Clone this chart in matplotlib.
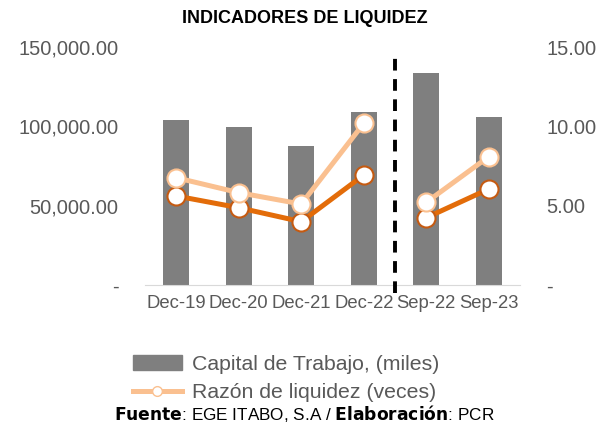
import matplotlib.pyplot as plt
from matplotlib.lines import Line2D
from matplotlib.patches import Patch
import numpy as np

plt.rcParams['font.family'] = ['Liberation Sans', 'DejaVu Sans']

periodos = ['Dec-19', 'Dec-20', 'Dec-21', 'Dec-22', 'Sep-22', 'Sep-23']
capital_trabajo = [104000, 99600, 87600, 109000, 133600, 105900]
razon_liquidez = [6.76, 5.82, 5.10, 10.19, 5.21, 8.09]
prueba_acida = [5.61, 4.87, 3.99, 6.93, 4.24, 6.05]

gris = '#7f7f7f'
naranja_claro = '#fac090'
naranja = '#e36c09'
texto = '#595959'

fig = plt.figure(figsize=(6.13, 4.29), dpi=100)
ax = fig.add_axes([0.2366, 0.3357, 0.6117, 0.5547])
ax2 = ax.twinx()

x = np.arange(len(periodos))
ax.bar(x, capital_trabajo, width=0.41, color=gris, zorder=2)
ax.set_ylim(0, 150000)
ax.set_xlim(-0.5, len(periodos) - 0.5)
ax.set_yticks([0, 50000, 100000, 150000])
ax.set_yticklabels(['-' if v == 0 else f'{v:,.2f}' for v in [0, 50000, 100000, 150000]])
ax.set_xticks(x)
ax.set_xticklabels(periodos)

ax2.set_ylim(0, 15)
ax2.set_yticks([0, 5, 10, 15])
ax2.set_yticklabels(['-' if v == 0 else f'{v:.2f}' for v in [0, 5, 10, 15]])

# lineas cortadas entre Dec-22 y Sep-22
for serie, col, mec in [(prueba_acida, naranja, '#c55a11'), (razon_liquidez, naranja_claro, naranja_claro)]:
    for seg in [slice(0, 4), slice(4, 6)]:
        ax2.plot(x[seg], serie[seg], color=col, lw=3.6, marker='o', ms=13,
                 mfc='white', mec=mec, mew=1.5, zorder=3)

# separador punteado
ax2.add_line(Line2D([3.5, 3.5], [-0.034, 0.975], transform=ax2.get_xaxis_transform(),
                    color='black', lw=2.8, ls=(0, (3, 2.2)), clip_on=False, zorder=4))

for a in (ax, ax2):
    for s in ['top', 'left', 'right', 'bottom']:
        a.spines[s].set_visible(False)
    a.tick_params(length=0, colors=texto)
ax.spines['bottom'].set_visible(True)
ax.spines['bottom'].set_color('#d9d9d9')
ax.tick_params(axis='y', labelsize=14.5, pad=19)
ax2.tick_params(axis='y', labelsize=14.5, pad=19)
ax.tick_params(axis='x', labelsize=13.3, pad=7)
ax.set_zorder(ax2.get_zorder() - 1)
ax.patch.set_visible(False)

fig.text(0.497, 0.956, 'INDICADORES DE LIQUIDEZ', ha='center', va='center',
         fontsize=13, fontweight='bold')

handles = [Patch(color=gris),
           Line2D([], [], color=naranja_claro, lw=3.6, marker='o', ms=7, mfc='white', mec=naranja_claro)]
fig.legend(handles, ['Capital de Trabajo, (miles)', 'Razón de liquidez (veces)'],
           loc='center', bbox_to_anchor=(0.467, 0.117), frameon=False, fontsize=15.3,
           labelcolor=texto, handlelength=2.3, labelspacing=0.42, handletextpad=0.5)

fig.text(0.496, 0.035, r'$\bf{Fuente}$: EGE ITABO, S.A / $\bf{Elaboración}$: PCR',
         ha='center', va='center', fontsize=12.3)

fig.savefig('out.png', dpi=100)
